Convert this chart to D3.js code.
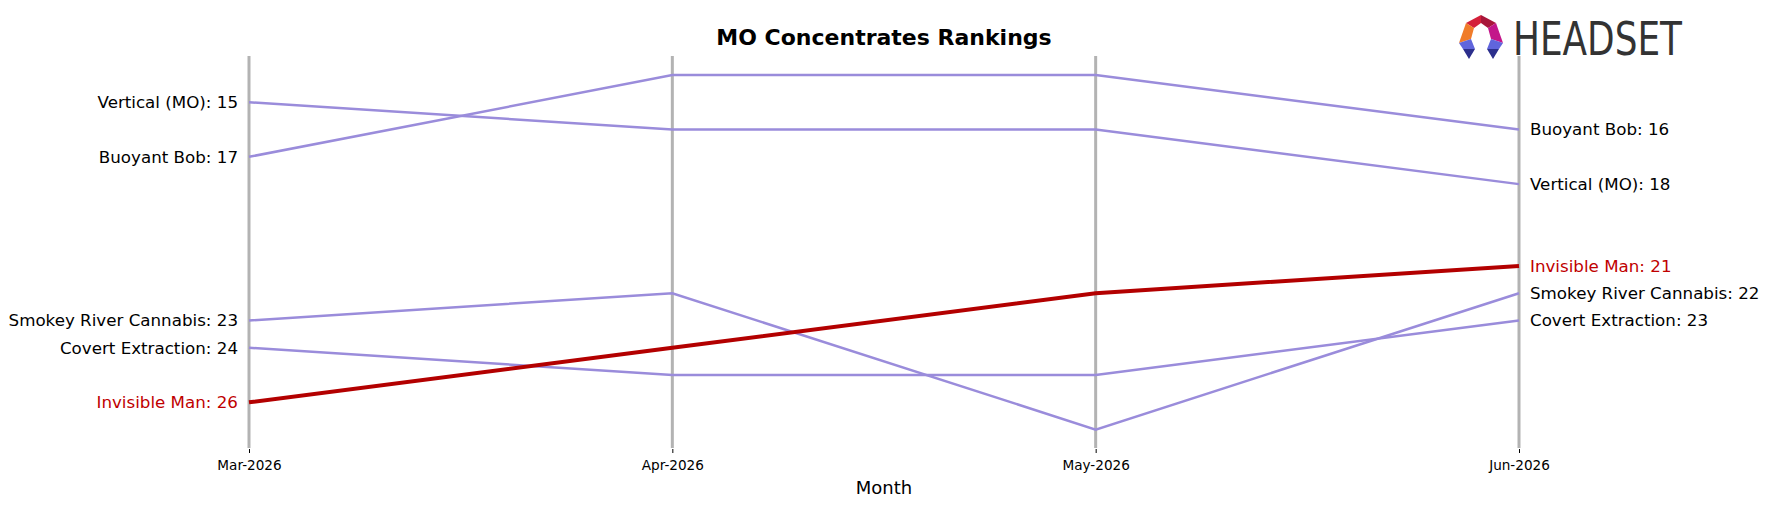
<!DOCTYPE html>
<html>
<head>
<meta charset="utf-8">
<script src="https://cdn.jsdelivr.net/npm/d3@7"></script>
<style>
  body { margin: 0; background: #fff; }
  svg text { font-family: "DejaVu Sans", sans-serif; }
</style>
</head>
<body>
<div class="chart"></div>
<script>
const months = ["Mar-2026", "Apr-2026", "May-2026", "Jun-2026"];
const brands = ["Vertical (MO)", "Buoyant Bob", "Smokey River Cannabis", "Covert Extraction", "Invisible Man"];
const verticalMO = [15, 16, 16, 18];
const buoyantBob = [17, 14, 14, 16];
const smokeyRiver = [23, 22, 27, 22];
const covertExtraction = [24, 25, 25, 23];
const invisibleMan = [26, 24, 22, 21];
const highlight = "Invisible Man";

const rankings = [verticalMO, buoyantBob, smokeyRiver, covertExtraction, invisibleMan];

const width = 1768, height = 507;
const purple = "#9a8cdb", red = "#b30000", labelRed = "#c00000";

const svg = d3.select(".chart").append("svg")
    .attr("width", width)
    .attr("height", height);

const x = d3.scalePoint()
    .domain(months)
    .range([249, 1519]);

const y = d3.scaleLinear()
    .domain([15, 26])
    .range([102.3, 402.3]);

// vertical month guides
svg.selectAll(".guide")
    .data(months)
    .enter().append("line")
    .attr("class", "guide")
    .attr("x1", d => x(d)).attr("x2", d => x(d))
    .attr("y1", 56).attr("y2", 448)
    .attr("stroke", "#b3b3b3")
    .attr("stroke-width", 3);

// x axis ticks
const xAxis = svg.append("g")
    .attr("transform", "translate(0,449)")
    .call(d3.axisBottom(x).tickSize(4).tickPadding(7));
xAxis.select(".domain").remove();
xAxis.selectAll("text")
    .style("font-family", "DejaVu Sans")
    .style("font-size", "13.6px")
    .attr("fill", "#000");

svg.append("text")
    .attr("x", 884).attr("y", 494)
    .attr("text-anchor", "middle")
    .style("font-size", "18px")
    .text("Month");

svg.append("text")
    .attr("x", 884).attr("y", 45)
    .attr("text-anchor", "middle")
    .style("font-size", "22px")
    .style("font-weight", "bold")
    .text("MO Concentrates Rankings");

const line = d3.line()
    .x((d, i) => x(months[i]))
    .y(d => y(d));

const series = brands.map((b, i) => ({name: b, values: rankings[i]}));
// draw highlighted line on top
series.sort((a, b) => (a.name === highlight) - (b.name === highlight));

svg.selectAll(".rank")
    .data(series)
    .enter().append("path")
    .attr("class", "rank")
    .attr("d", d => line(d.values))
    .attr("fill", "none")
    .attr("stroke", d => d.name === highlight ? red : purple)
    .attr("stroke-width", d => d.name === highlight ? 4 : 2.5);

svg.selectAll(".leftLabel")
    .data(series)
    .enter().append("text")
    .attr("class", "leftLabel")
    .attr("x", x(months[0]) - 11)
    .attr("y", d => y(d.values[0]))
    .attr("dy", "0.35em")
    .attr("text-anchor", "end")
    .style("font-size", "16.7px")
    .attr("fill", d => d.name === highlight ? labelRed : "#000")
    .text(d => d.name + ": " + d.values[0]);

svg.selectAll(".rightLabel")
    .data(series)
    .enter().append("text")
    .attr("class", "rightLabel")
    .attr("x", x(months[months.length - 1]) + 11)
    .attr("y", d => y(d.values[d.values.length - 1]))
    .attr("dy", "0.35em")
    .style("font-size", "16.7px")
    .attr("fill", d => d.name === highlight ? labelRed : "#000")
    .text(d => d.name + ": " + d.values[d.values.length - 1]);

// logo
const logo = svg.append("g").attr("transform", "translate(1458,15)");
const pieces = [
    {c: "#d4213a", p: [[8, 8], [23, 0], [23, 8], [16, 13]]},
    {c: "#a8163a", p: [[23, 0], [38, 8], [30, 13], [23, 8]]},
    {c: "#f07c2a", p: [[8, 8], [16, 13], [13, 24], [1, 28]]},
    {c: "#c3168a", p: [[38, 8], [30, 13], [33, 24], [45, 28]]},
    {c: "#6065dc", p: [[1, 28], [13, 24], [17, 34], [5, 34]]},
    {c: "#6065dc", p: [[45, 28], [33, 24], [29, 34], [41, 34]]},
    {c: "#2c2f8c", p: [[5, 34], [17, 34], [11, 44]]},
    {c: "#2c2f8c", p: [[41, 34], [29, 34], [35, 44]]}
];
logo.selectAll("polygon")
    .data(pieces)
    .enter().append("polygon")
    .attr("points", d => d.p.map(q => q.join(",")).join(" "))
    .attr("fill", d => d.c);

svg.append("text")
    .attr("x", 1513).attr("y", 55)
    .attr("textLength", 169)
    .attr("lengthAdjust", "spacingAndGlyphs")
    .style("font-family", "DejaVu Sans Condensed")
    .style("font-size", "47px")
    .attr("fill", "#333")
    .text("HEADSET");
</script>
</body>
</html>
